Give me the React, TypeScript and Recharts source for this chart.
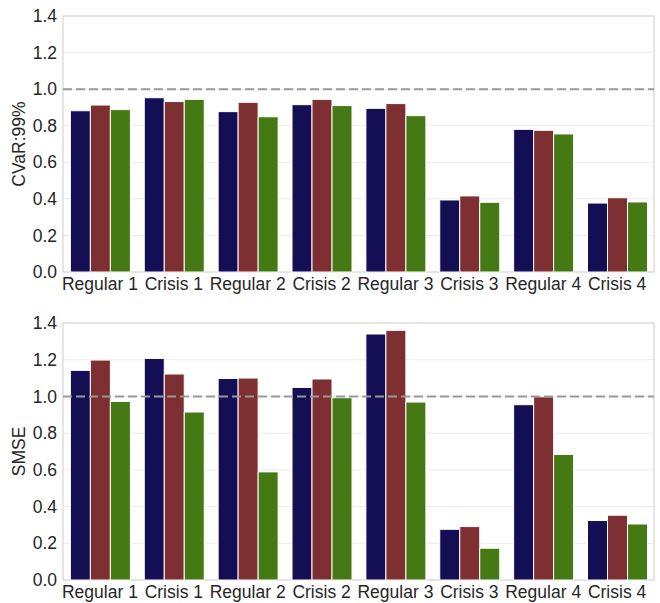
import React from 'react';
import { BarChart, Bar, XAxis, YAxis, CartesianGrid, ReferenceLine, ReferenceArea, Label } from 'recharts';

const categories = ['Regular 1', 'Crisis 1', 'Regular 2', 'Crisis 2', 'Regular 3', 'Crisis 3', 'Regular 4', 'Crisis 4'];

const cvarA = [0.882, 0.953, 0.877, 0.915, 0.895, 0.394, 0.78, 0.377];
const cvarB = [0.913, 0.932, 0.928, 0.944, 0.921, 0.416, 0.775, 0.406];
const cvarC = [0.888, 0.944, 0.849, 0.91, 0.855, 0.381, 0.755, 0.383];

const smseA = [1.142, 1.207, 1.098, 1.049, 1.34, 0.276, 0.955, 0.324];
const smseB = [1.198, 1.122, 1.1, 1.095, 1.36, 0.291, 0.998, 0.353];
const smseC = [0.973, 0.915, 0.589, 0.993, 0.969, 0.173, 0.684, 0.305];

const yTicks = [0, 0.2, 0.4, 0.6, 0.8, 1.0, 1.2, 1.4];

const COLORS = ['#140f55', '#7d2f31', '#457913'];
const TEXT = '#262626';
const FONT = '"Liberation Sans", Arial, sans-serif';

const build = (a: number[], b: number[], c: number[]) =>
  categories.map((name, i) => ({ name, a: a[i], b: b[i], c: c[i] }));

const cvarData = build(cvarA, cvarB, cvarC);
const smseData = build(smseA, smseB, smseC);

type PanelProps = { data: any[]; label: string; height: number; top: number; xh: number };

function Panel({ data, label, height, top, xh }: PanelProps) {
  return (
    <BarChart
      width={660}
      height={height}
      data={data}
      margin={{ top, right: 6, left: 0, bottom: 0 }}
      barCategoryGap="10%"
      barGap={0}
      style={{ fontFamily: FONT }}
    >
      <CartesianGrid vertical={false} stroke="#ebebeb" strokeWidth={1} />
      <ReferenceArea y1={0} y2={1.4} fill="none" stroke="#d6d6d6" strokeWidth={1.2} ifOverflow="visible" />
      <XAxis
        dataKey="name"
        height={xh}
        tickLine={false}
        axisLine={false}
        tickMargin={0}
        interval={0}
        tick={{ fill: TEXT, fontSize: 17.5, fontFamily: FONT }}
      />
      <YAxis
        width={63}
        domain={[0, 1.4]}
        ticks={yTicks}
        tickFormatter={(v: number) => v.toFixed(1)}
        tickLine={false}
        axisLine={false}
        tickMargin={0}
        tick={{ fill: TEXT, fontSize: 17.5, fontFamily: FONT }}
      >
        <Label
          value={label}
          angle={-90}
          position="insideLeft"
          offset={19}
          style={{ textAnchor: 'middle', fill: TEXT, fontSize: 17.5, fontFamily: FONT }}
        />
      </YAxis>
      <Bar dataKey="a" fill={COLORS[0]} stroke="#ffffff" strokeWidth={1} isAnimationActive={false} />
      <Bar dataKey="b" fill={COLORS[1]} stroke="#ffffff" strokeWidth={1} isAnimationActive={false} />
      <Bar dataKey="c" fill={COLORS[2]} stroke="#ffffff" strokeWidth={1} isAnimationActive={false} />
      <ReferenceLine y={1} stroke="#999999" strokeWidth={2} strokeDasharray="9 4" />
    </BarChart>
  );
}

export default function App() {
  return (
    <div style={{ position: 'absolute', left: 0, top: 0, width: 660, height: 603, background: '#ffffff' }}>
      <Panel data={cvarData} label="CVaR:99%" height={300} top={16} xh={28} />
      <Panel data={smseData} label="SMSE" height={303} top={23} xh={23} />
    </div>
  );
}
